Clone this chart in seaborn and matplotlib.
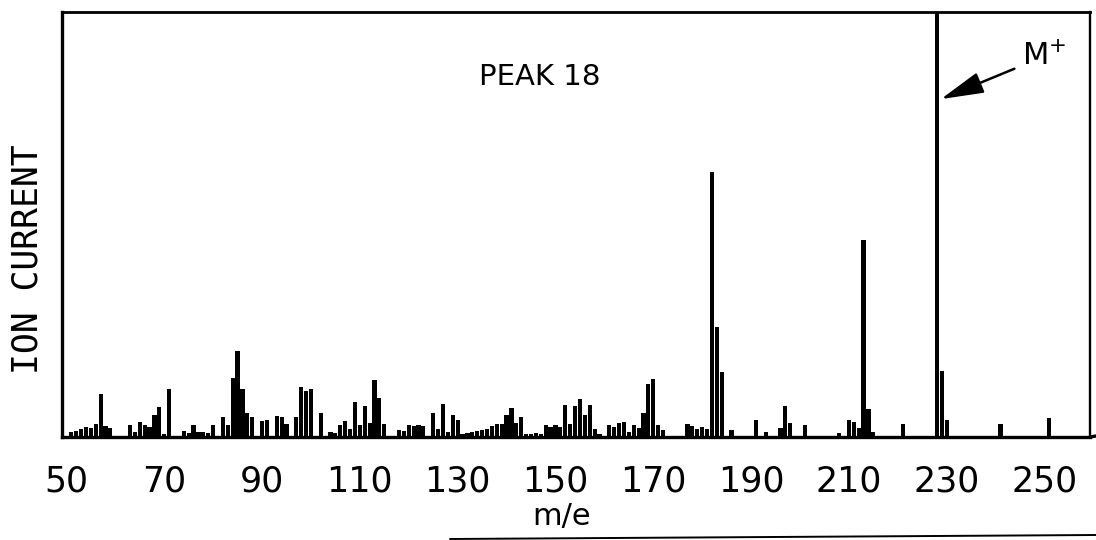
import matplotlib
matplotlib.use("Agg")
import matplotlib.pyplot as plt
from matplotlib.lines import Line2D
import pandas as pd
import seaborn as sns

# Mass spectrum of peak 18: m/e values and ion current (percent of full scale)
mz = [51, 52, 53, 54, 55, 56, 57, 58, 59,
      63, 64, 65, 66, 67, 68, 69, 70, 71,
      74, 75, 76, 77, 78, 79, 80, 82, 83, 84, 85, 86, 87, 88,
      90, 91, 93, 94, 95, 97, 98, 99, 100, 102, 104, 105, 106, 107, 108, 109,
      110, 111, 112, 113, 114, 115, 118, 119, 120, 121, 122, 123, 125, 126,
      127, 128, 129, 130, 131, 132, 133, 134, 135, 136, 137, 138, 139, 140,
      141, 142, 143, 144, 145, 146, 147, 148, 149, 150, 151, 152, 153, 154,
      155, 156, 157, 158, 159, 161, 162, 163, 164, 165, 166, 167, 168, 169,
      170, 171, 172, 177, 178, 179, 180, 181, 182, 183, 184, 186, 191, 193,
      196, 197, 198, 201, 208, 210, 211, 212, 213, 214, 215, 221, 228, 229,
      230, 241, 251]
intensity = [1.2, 1.4, 1.9, 2.4, 2.1, 3.1, 10.2, 2.6, 2.1,
             2.8, 1.2, 3.5, 2.8, 2.4, 5.2, 7.1, 0.7, 11.3,
             1.4, 0.9, 2.8, 1.2, 1.2, 0.9, 2.8, 4.7, 2.8, 13.9, 20.3, 11.3, 5.7, 4.7,
             3.8, 4.0, 5.0, 4.7, 3.1, 4.7, 11.8, 10.9, 11.3, 5.7, 1.2, 0.9, 2.8, 3.8, 1.9, 8.3,
             2.8, 7.3, 3.3, 13.5, 9.2, 3.1, 1.7, 1.4, 2.8, 2.6, 2.8, 2.6, 5.7, 1.9,
             7.8, 1.2, 5.2, 4.0, 0.7, 0.9, 1.2, 1.4, 1.7, 1.9, 2.6, 3.1, 3.1, 5.2,
             6.9, 3.3, 4.7, 0.7, 0.7, 0.9, 0.7, 2.8, 2.4, 2.8, 2.4, 7.6, 3.1, 7.3,
             9.0, 5.2, 7.6, 1.9, 0.7, 2.8, 2.4, 3.3, 3.5, 1.2, 2.8, 2.1, 5.7, 12.5,
             13.7, 2.8, 1.7, 3.1, 2.6, 1.9, 2.4, 1.9, 62.4, 26.0, 15.4, 1.7, 4.0, 1.2,
             2.1, 7.3, 3.3, 2.8, 0.9, 4.0, 3.5, 2.1, 46.3, 6.6, 1.2, 3.1, 100.0, 15.6,
             4.0, 3.1, 4.5]

tick_values = [50, 70, 90, 110, 130, 150, 170, 190, 210, 230, 250]
tick_labels = ["50", "70", "90", "110", "130", "150", "170", "190", "210", "230", "250"]

title_text = "PEAK 18"
x_label = "m/e"
y_label = "ION CURRENT"
molecular_ion = 228

df = pd.DataFrame({"mz": mz, "intensity": intensity})

sns.set_theme(style="white", rc={"text.color": "black", "xtick.color": "black"})
plt.rcParams["font.family"] = ["DejaVu Sans"]
TYPEWRITER = ["DejaVu Sans Mono", "DejaVu Sans"]

W, H = 1096, 540
fig = plt.figure(figsize=(W / 100, H / 100), dpi=100)
ax = fig.add_axes([62 / W, 1 - 437 / H, (1090 - 62) / W, (437 - 12) / H])

sns.barplot(data=df, x="mz", y="intensity", native_scale=True, color="black",
            width=0.85, errorbar=None, linewidth=0, saturation=1, ax=ax)

ax.set_xlim(49.1, 259.3)
ax.set_ylim(0, 100)

ax.set_xticks(tick_values)
ax.set_xticklabels(tick_labels, fontsize=25, color="black")
ax.set_yticks([])
ax.tick_params(axis="x", length=0, pad=20, colors="black")
ax.set_xlabel("")
ax.set_ylabel("")

for side, lw in {"left": 2.4, "bottom": 2.4, "top": 2.0, "right": 1.7}.items():
    ax.spines[side].set_visible(True)
    ax.spines[side].set_color("black")
    ax.spines[side].set_linewidth(lw)

# baseline continues past the right edge of the frame
fig.add_artist(Line2D([1090 / W, 1.0], [1 - 437 / H, 1 - 436 / H],
                      color="black", linewidth=2.4, transform=fig.transFigure))
# rule along the lower edge of the page
fig.add_artist(Line2D([450 / W, 1.0], [1 - 539 / H, 1 - 535 / H],
                      color="black", linewidth=1.4, transform=fig.transFigure))

ax.text(0.465, 0.848, title_text, transform=ax.transAxes, fontsize=21,
        ha="center", va="center", color="black")

fig.text(562 / W, 1 - 517 / H, x_label, fontsize=22, color="black",
         ha="center", va="center")
fig.text(28 / W, 1 - 259 / H, y_label, fontsize=25, rotation=90, color="black",
         family=TYPEWRITER, ha="center", va="center")

ax.annotate("M$^{+}$", xy=(molecular_ion + 0.8, 79.5), xytext=(245.3, 89.5),
            fontsize=22, ha="left", va="center", color="black",
            arrowprops=dict(arrowstyle="-|>,head_length=1.2,head_width=0.3",
                            color="black", lw=1.8, shrinkA=3, shrinkB=0))

fig.savefig("out.png", dpi=100)
